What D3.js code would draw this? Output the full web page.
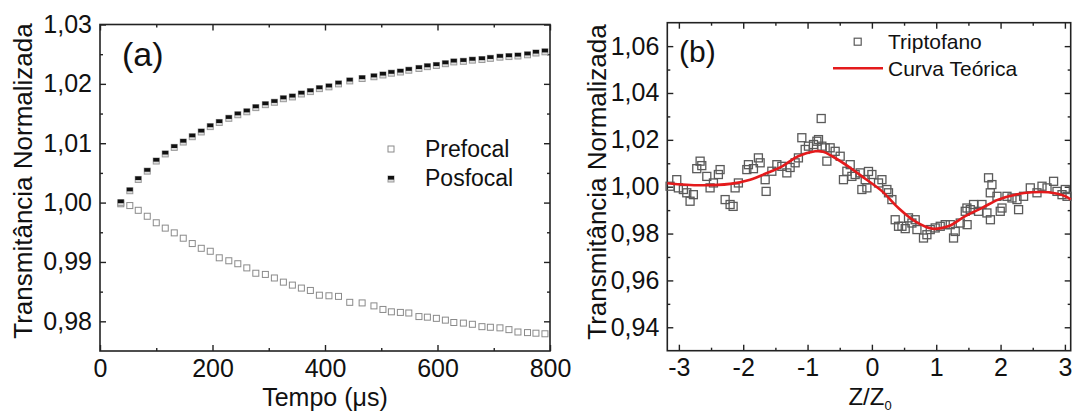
<!DOCTYPE html>
<html><head><meta charset="utf-8">
<script src="https://cdn.jsdelivr.net/npm/d3@7"></script>
<style>
html,body{margin:0;padding:0;background:#fff;}
text{font-family:"Liberation Sans",Arial,sans-serif;fill:#111;}
</style></head>
<body><svg id="c" width="1073" height="412"></svg>
<script>
// ---------- Panel (a) data ----------
const timeA = [37,53,68,84,100,116,132,148,164,180,196,212,229,245,261,277,294,310,326,342,358,374,390,407,424,444,466,487,503,518,534,549,567,582,598,614,629,646,662,679,694,711,727,743,760,775,791];
const prefocal = [0.9998,0.9995,0.9987,0.9977,0.9966,0.9957,0.9949,0.9940,0.9931,0.9923,0.9918,0.9907,0.9902,0.9897,0.9890,0.9881,0.9879,0.9873,0.9866,0.9861,0.9856,0.9852,0.9844,0.9843,0.9842,0.9832,0.9831,0.9826,0.9820,0.9816,0.9815,0.9814,0.9808,0.9807,0.9805,0.9802,0.9798,0.9797,0.9795,0.9791,0.9790,0.9789,0.9786,0.9782,0.9781,0.9780,0.9779];
const posfocal = [1.0000,1.0020,1.0039,1.0053,1.0070,1.0082,1.0093,1.0102,1.0111,1.0119,1.0128,1.0135,1.0142,1.0148,1.0153,1.0160,1.0165,1.0169,1.0175,1.0178,1.0183,1.0187,1.0192,1.0195,1.0200,1.0205,1.0209,1.0212,1.0215,1.0218,1.0220,1.0223,1.0226,1.0229,1.0231,1.0234,1.0237,1.0238,1.0240,1.0241,1.0243,1.0245,1.0246,1.0247,1.0249,1.0252,1.0254];
const xTicksA = [0,200,400,600,800];
const yTicksA = [0.98,0.99,1.00,1.01,1.02,1.03];

// ---------- Panel (b) data ----------
const zExp = [-3.137,-3.033,-3.008,-2.930,-2.877,-2.826,-2.775,-2.722,-2.670,-2.644,-2.566,-2.515,-2.463,-2.386,-2.359,-2.281,-2.204,-2.157,-2.126,-2.075,-1.944,-1.919,-1.841,-1.764,-1.737,-1.659,-1.644,-1.555,-1.477,-1.400,-1.322,-1.271,-1.193,-1.142,-1.089,-1.037,-0.986,-0.908,-0.855,-0.830,-0.788,-0.778,-0.726,-0.700,-0.649,-0.571,-0.493,-0.442,-0.389,-0.337,-0.311,-0.260,-0.182,-0.156,-0.104,-0.078,-0.053,0.000,0.103,0.156,0.233,0.258,0.311,0.362,0.414,0.467,0.518,0.569,0.622,0.673,0.700,0.802,0.855,0.907,0.984,1.062,1.140,1.218,1.269,1.295,1.373,1.451,1.477,1.480,1.529,1.580,1.658,1.711,1.788,1.813,1.866,1.840,1.842,1.944,1.995,2.022,2.100,2.177,2.255,2.280,2.358,2.462,2.566,2.644,2.722,2.824,2.877,2.955,3.006,3.033];
const tExp = [1.0002,1.0030,0.9995,0.9988,0.9974,0.9938,0.9966,1.0077,1.0109,1.0090,1.0044,0.9995,1.0016,1.0052,1.0073,0.9945,0.9924,0.9916,0.9995,1.0016,1.0073,1.0094,1.0077,1.0123,1.0102,1.0030,0.9980,1.0066,1.0094,1.0087,1.0059,1.0082,1.0102,1.0123,1.0209,1.0159,1.0173,1.0180,1.0194,1.0201,1.0291,1.0173,1.0166,1.0109,1.0166,1.0151,1.0130,1.0030,1.0066,1.0094,1.0044,1.0052,1.0059,0.9988,1.0030,0.9995,1.0065,1.0052,1.0016,1.0030,0.9988,0.9974,0.9945,0.9859,0.9831,0.9831,0.9821,0.9867,0.9845,0.9859,0.9817,0.9781,0.9795,0.9817,0.9824,0.9831,0.9838,0.9838,0.9781,0.9809,0.9845,0.9895,0.9909,0.9838,0.9902,0.9924,0.9895,0.9924,0.9888,1.0038,1.0009,0.9974,0.9859,0.9959,0.9895,0.9909,0.9959,0.9952,0.9945,0.9902,0.9959,0.9995,0.9974,1.0002,0.9995,1.0023,0.9980,0.9966,0.9988,0.9959];
const zFit = [-3.18,-2.670,-2.204,-1.893,-1.659,-1.395,-1.146,-0.882,-0.757,-0.617,-0.369,-0.104,0.160,0.409,0.673,0.937,1.187,1.451,1.715,1.964,2.228,2.493,2.742,3.006,3.09];
const tFit = [1.0015,1.0006,1.0012,1.0030,1.0055,1.0087,1.0130,1.0151,1.0149,1.0130,1.0087,1.0034,0.9980,0.9910,0.9852,0.9821,0.9831,0.9874,0.9910,0.9945,0.9966,0.9976,0.9976,0.9959,0.9945];
const xTicksB = [-3,-2,-1,0,1,2,3];
const yTicksB = [0.94,0.96,0.98,1.00,1.02,1.04,1.06];

const svg = d3.select("#c");
const comma = d => d3.format(".2f")(d).replace(".", ",");
const FONT = '"Liberation Sans",Arial,sans-serif';

function frame(g, x, y, xTicks, xMinor, yTicks, yMinor, xFmt, yFmt) {
  const [x0, x1] = x.range(), [y0, y1] = y.range();
  const H = y0 - y1, W = x1 - x0;
  const styleAxis = sel => {
    sel.select(".domain").remove();
    sel.selectAll(".tick line").attr("stroke", "#222").attr("stroke-width", 1.4);
    sel.selectAll("text").attr("font-size", 25).attr("font-family", FONT).attr("fill", "#111");
  };
  g.append("g").attr("transform", `translate(0,${y0})`)
    .call(d3.axisBottom(x).tickValues(xTicks).tickSize(-6).tickPadding(8).tickFormat(xFmt)).call(styleAxis);
  g.append("g").attr("transform", `translate(0,${y0})`)
    .call(d3.axisBottom(x).tickValues(xMinor).tickSize(-3).tickFormat("")).call(styleAxis);
  g.append("g").attr("transform", `translate(0,${y1})`)
    .call(d3.axisTop(x).tickValues(xTicks).tickSize(-6).tickFormat("")).call(styleAxis);
  g.append("g").attr("transform", `translate(0,${y1})`)
    .call(d3.axisTop(x).tickValues(xMinor).tickSize(-3).tickFormat("")).call(styleAxis);
  g.append("g").attr("transform", `translate(${x0},0)`)
    .call(d3.axisLeft(y).tickValues(yTicks).tickSize(-6).tickPadding(8).tickFormat(yFmt)).call(styleAxis);
  g.append("g").attr("transform", `translate(${x0},0)`)
    .call(d3.axisLeft(y).tickValues(yMinor).tickSize(-3).tickFormat("")).call(styleAxis);
  g.append("g").attr("transform", `translate(${x1},0)`)
    .call(d3.axisRight(y).tickValues(yTicks).tickSize(-6).tickFormat("")).call(styleAxis);
  g.append("g").attr("transform", `translate(${x1},0)`)
    .call(d3.axisRight(y).tickValues(yMinor).tickSize(-3).tickFormat("")).call(styleAxis);
  g.append("rect").attr("x", x0).attr("y", y1).attr("width", W).attr("height", H)
    .attr("fill", "none").attr("stroke", "#222").attr("stroke-width", 1.6);
}

// ---------- Panel (a) ----------
const xa = d3.scaleLinear().domain([0, 800]).range([100, 550]);
const ya = d3.scaleLinear().domain([0.975, 1.03]).range([351, 24.5]);
const ga = svg.append("g");
frame(ga, xa, ya, xTicksA, [100,300,500,700], yTicksA, [0.985,0.995,1.005,1.015,1.025], d => String(d), comma);

const S = 6;
ga.append("g").selectAll("rect").data(timeA).join("rect")
  .attr("x", (d,i) => xa(d) - S/2).attr("y", (d,i) => ya(prefocal[i]) - S/2)
  .attr("width", S).attr("height", S).attr("fill", "#fff").attr("stroke", "#8a8a8a").attr("stroke-width", 1);
const pos = ga.append("g").selectAll("g").data(timeA).join("g")
  .attr("transform", (d,i) => `translate(${xa(d)},${ya(posfocal[i])})`);
pos.append("rect").attr("x", -S/2).attr("y", -S/2).attr("width", S).attr("height", S)
  .attr("fill", "#ddd").attr("stroke", "#999").attr("stroke-width", 1);
pos.append("rect").attr("x", -S/2).attr("y", -S/2).attr("width", S).attr("height", S*0.6).attr("fill", "#111");

ga.append("text").attr("x", 122).attr("y", 66).attr("font-size", 34).text("(a)");
ga.append("rect").attr("x", 391 - 3).attr("y", 149 - 3).attr("width", 6).attr("height", 6)
  .attr("fill", "#fff").attr("stroke", "#8a8a8a");
ga.append("rect").attr("x", 391 - 3).attr("y", 179 - 3).attr("width", 6).attr("height", 6)
  .attr("fill", "#ddd").attr("stroke", "#999");
ga.append("rect").attr("x", 391 - 3).attr("y", 179 - 3).attr("width", 6).attr("height", 3.6).attr("fill", "#111");
ga.append("text").attr("x", 425).attr("y", 157).attr("font-size", 23).text("Prefocal");
ga.append("text").attr("x", 425).attr("y", 186).attr("font-size", 23).text("Posfocal");
ga.append("text").attr("x", 325).attr("y", 406).attr("text-anchor", "middle").attr("font-size", 25)
  .text("Tempo (\u03bcs)");
ga.append("text").attr("transform", "translate(32,181) rotate(-90)").attr("text-anchor", "middle")
  .attr("font-size", 26).text("Transmitância Normalizada");

// ---------- Panel (b) ----------
const xb = d3.scaleLinear().domain([-3.18, 3.09]).range([667.3, 1070.7]);
const yb = d3.scaleLinear().domain([0.93, 1.07]).range([350.7, 22.7]);
const gb = svg.append("g");
frame(gb, xb, yb, xTicksB, [-2.5,-1.5,-0.5,0.5,1.5,2.5], yTicksB, [0.95,0.97,0.99,1.01,1.03,1.05], d => String(d), comma);

const B = 8;
gb.append("g").selectAll("rect").data(zExp).join("rect")
  .attr("x", (d,i) => xb(d) - B/2).attr("y", (d,i) => yb(tExp[i]) - B/2)
  .attr("width", B).attr("height", B).attr("fill", "none").attr("stroke", "#5a5a5a").attr("stroke-width", 1.3);
const fit = zFit.map((z,i) => [z, tFit[i]]);
gb.append("path").datum(fit)
  .attr("d", d3.line().x(d => xb(d[0])).y(d => yb(d[1])).curve(d3.curveCatmullRom.alpha(0.5)))
  .attr("fill", "none").attr("stroke", "#e41a1c").attr("stroke-width", 2.6);

gb.append("text").attr("x", 679).attr("y", 62).attr("font-size", 30).text("(b)");
gb.append("rect").attr("x", 857.7 - 3.5).attr("y", 41.7 - 3.5).attr("width", 7).attr("height", 7)
  .attr("fill", "none").attr("stroke", "#5a5a5a").attr("stroke-width", 1.2);
gb.append("line").attr("x1", 833).attr("x2", 883).attr("y1", 68.3).attr("y2", 68.3)
  .attr("stroke", "#e41a1c").attr("stroke-width", 2.6);
gb.append("text").attr("x", 888).attr("y", 48.5).attr("font-size", 21).text("Triptofano");
gb.append("text").attr("x", 888).attr("y", 75.5).attr("font-size", 21).text("Curva Teórica");
const zl = gb.append("text").attr("x", 870).attr("y", 405).attr("text-anchor", "middle").attr("font-size", 24);
zl.append("tspan").text("Z/Z");
zl.append("tspan").attr("dy", 5).attr("font-size", 13).text("0");
gb.append("text").attr("transform", "translate(606,182) rotate(-90)").attr("text-anchor", "middle")
  .attr("font-size", 26).text("Transmitância Normalizada");
</script>
</body></html>
